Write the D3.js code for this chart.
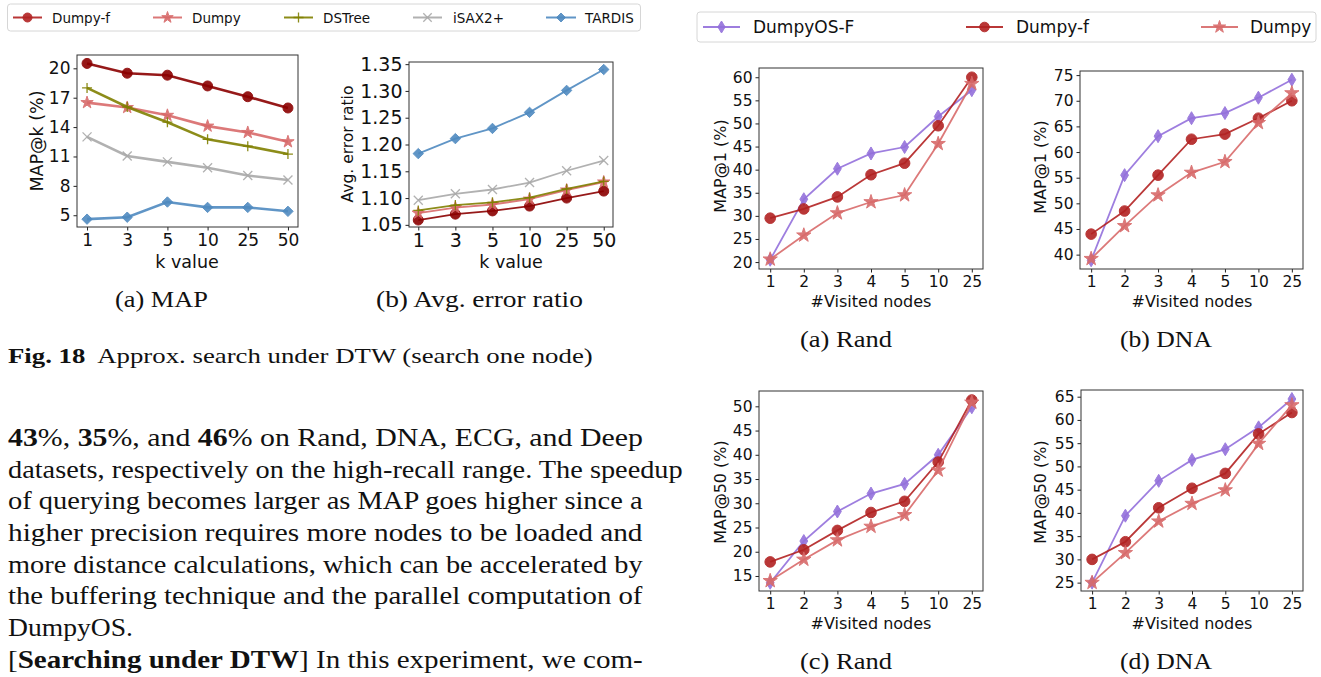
<!DOCTYPE html>
<html>
<head>
<meta charset="utf-8">
<title></title>
<script src="https://d3js.org/d3.v7.min.js"></script>
<style>
  body { margin: 0; background: #fff; }
  svg { display: block; }
</style>
</head>
<body>
<svg id="page" width="1321" height="677"></svg>
<script>

// ---------- data : Fig. 18 (search one node) ----------
var kValues = ["1", "3", "5", "10", "25", "50"]

var mapDumpyF = [20.5, 19.5, 19.3, 18.2, 17.1, 15.95]
var mapDumpy  = [16.5, 16.0, 15.2, 14.1, 13.45, 12.5]
var mapDSTree = [18.0, 16.05, 14.5, 12.75, 12.05, 11.25]
var mapISAX   = [13.0, 11.05, 10.45, 9.85, 9.05, 8.6]
var mapTARDIS = [4.6, 4.8, 6.35, 5.8, 5.8, 5.4]
var mapTicks  = [5, 8, 11, 14, 17, 20]

var errDumpyF = [1.059, 1.070, 1.076, 1.085, 1.100, 1.113]
var errDumpy  = [1.072, 1.082, 1.088, 1.098, 1.115, 1.130]
var errDSTree = [1.077, 1.087, 1.092, 1.101, 1.117, 1.131]
var errISAX   = [1.096, 1.108, 1.116, 1.129, 1.151, 1.170]
var errTARDIS = [1.183, 1.211, 1.230, 1.260, 1.301, 1.340]
var errTicks  = [1.05, 1.10, 1.15, 1.20, 1.25, 1.30, 1.35]

// ---------- data : visited nodes figure ----------
var visited = ["1", "2", "3", "4", "5", "10", "25"]

var randMap1OS = [20.5, 33.6, 40.2, 43.5, 44.9, 51.5, 57.2]
var randMap1F  = [29.5, 31.5, 34.1, 38.9, 41.4, 49.5, 60.0]
var randMap1D  = [20.6, 25.8, 30.6, 33.0, 34.5, 45.6, 58.6]
var randMap1Ticks = [20, 25, 30, 35, 40, 45, 50, 55, 60]

var dnaMap1OS = [38.9, 55.5, 63.1, 66.6, 67.6, 70.6, 74.1]
var dnaMap1F  = [44.0, 48.5, 55.5, 62.5, 63.5, 66.6, 70.0]
var dnaMap1D  = [39.2, 45.6, 51.6, 56.0, 58.1, 65.7, 71.5]
var dnaMap1Ticks = [40, 45, 50, 55, 60, 65, 70, 75]

var randMap50OS = [13.6, 22.2, 28.3, 32.0, 34.0, 40.0, 49.8]
var randMap50F  = [17.9, 20.4, 24.4, 28.1, 30.4, 38.5, 51.3]
var randMap50D  = [14.0, 18.4, 22.4, 25.2, 27.6, 36.8, 50.8]
var randMap50Ticks = [15, 20, 25, 30, 35, 40, 45, 50]

var dnaMap50OS = [25.0, 39.4, 46.9, 51.4, 53.7, 58.4, 64.5]
var dnaMap50F  = [30.0, 33.8, 41.1, 45.3, 48.5, 57.0, 61.6]
var dnaMap50D  = [25.0, 31.4, 38.2, 42.0, 44.9, 54.9, 63.2]
var dnaMap50Ticks = [25, 30, 35, 40, 45, 50, 55, 60, 65]

// colours
var cDarkRed = "#8b0000", cFire = "#b22222", cPink = "#d86a6a", cOlive = "#808000",
    cGray = "#a9a9a9", cBlue = "#4f8ac0", cPurple = "#9370db"

var sans = "DejaVu Sans, sans-serif"
var serif = "Liberation Serif, Times New Roman, serif"

var svg = d3.select("#page")
svg.append("rect").attr("width", 1321).attr("height", 677).attr("fill", "#fff")

// marker shapes (matplotlib-ish)
function markerPath(type, s) {
    if (type == "circle") return d3.symbol(d3.symbolCircle, Math.PI * s * s)()
    if (type == "star") return d3.symbol(d3.symbolStar, s * s / 0.89)()
    if (type == "diamond") return "M0," + (-s) + "L" + s + ",0L0," + s + "L" + (-s) + ",0Z"
    if (type == "thin") return "M0," + (-s) + "L" + (s * 0.6) + ",0L0," + s + "L" + (-s * 0.6) + ",0Z"
    if (type == "plus") return "M" + (-s) + ",0H" + s + "M0," + (-s) + "V" + s
    if (type == "x") return "M" + (-s) + "," + (-s) + "L" + s + "," + s + "M" + (-s) + "," + s + "L" + s + "," + (-s)
}

function drawMarker(g, type, s, color, cx, cy, op) {
    var open = (type == "plus" || type == "x")
    g.append("path")
        .attr("d", markerPath(type, s))
        .attr("transform", "translate(" + cx + "," + cy + ")")
        .attr("fill", open ? "none" : color)
        .attr("stroke", color)
        .attr("stroke-width", open ? 1.3 : 1)
        .attr("opacity", op)
}

function drawPanel(p) {
    var g = svg.append("g")
    var x = d3.scalePoint().domain(p.cats).range([p.x0, p.x1]).padding(p.pad)
    var y = d3.scaleLinear().domain(p.yDomain).range([p.y1, p.y0])

    var xa = g.append("g")
        .attr("transform", "translate(0," + p.y1 + ")")
        .call(d3.axisBottom(x).tickSize(3.5).tickPadding(3))
    var ya = g.append("g")
        .attr("transform", "translate(" + p.x0 + ",0)")
        .call(d3.axisLeft(y).tickValues(p.yTicks).tickFormat(d3.format(p.fmt)).tickSize(3.5).tickPadding(3))
    ;[xa, ya].forEach(function(a) {
        a.select(".domain").remove()
        a.selectAll("text").attr("font-family", sans).attr("font-size", p.tickFs).attr("fill", "#111")
        a.selectAll("line").attr("stroke", "#222")
    })

    g.append("rect")
        .attr("x", p.x0).attr("y", p.y0)
        .attr("width", p.x1 - p.x0).attr("height", p.y1 - p.y0)
        .attr("fill", "none").attr("stroke", "#333").attr("stroke-width", 1)

    p.series.forEach(function(s) {
        var pts = s.values.map(function(v, i) { return [x(p.cats[i]), y(v)] })
        g.append("path")
            .attr("d", d3.line()(pts))
            .attr("fill", "none")
            .attr("stroke", s.color)
            .attr("stroke-width", p.lw)
            .attr("opacity", 0.9)
        pts.forEach(function(pt) {
            drawMarker(g, s.marker, s.size, s.color, pt[0], pt[1], 0.9)
        })
    })

    g.append("text")
        .attr("transform", "translate(" + p.ylx + "," + p.yly + ") rotate(-90)")
        .attr("text-anchor", "middle").attr("dominant-baseline", "central")
        .attr("font-family", sans).attr("font-size", p.ylFs).attr("fill", "#111")
        .text(p.yLabel)
    g.append("text")
        .attr("x", p.xlx).attr("y", p.xly)
        .attr("text-anchor", "middle").attr("dominant-baseline", "central")
        .attr("font-family", sans).attr("font-size", p.xlFs).attr("fill", "#111")
        .text(p.xLabel)
}

// ---------- left figure ----------
var leftSeriesA = [
    {values: mapDumpyF, color: cDarkRed, marker: "circle", size: 5},
    {values: mapDumpy, color: cPink, marker: "star", size: 6.5},
    {values: mapDSTree, color: cOlive, marker: "plus", size: 5},
    {values: mapISAX, color: cGray, marker: "x", size: 4.5},
    {values: mapTARDIS, color: cBlue, marker: "diamond", size: 5.2}
]
var leftSeriesB = [
    {values: errDumpyF, color: cDarkRed, marker: "circle", size: 5},
    {values: errDumpy, color: cPink, marker: "star", size: 6.5},
    {values: errDSTree, color: cOlive, marker: "plus", size: 5},
    {values: errISAX, color: cGray, marker: "x", size: 4.5},
    {values: errTARDIS, color: cBlue, marker: "diamond", size: 5.2}
]

drawPanel({cats: kValues, x0: 77, x1: 298, y0: 55, y1: 227, pad: 0.25,
    yDomain: [3.8, 21.36], yTicks: mapTicks, fmt: "d", tickFs: 17, lw: 2.6,
    series: leftSeriesA, yLabel: "MAP@k (%)", ylx: 37, yly: 141, ylFs: 17.5,
    xLabel: "k value", xlx: 187, xly: 262, xlFs: 17.5})

drawPanel({cats: kValues, x0: 409, x1: 613, y0: 62, y1: 227, pad: 0.25,
    yDomain: [1.046, 1.354], yTicks: errTicks, fmt: ".2f", tickFs: 19, lw: 1.8,
    series: leftSeriesB, yLabel: "Avg. error ratio", ylx: 348, yly: 144, ylFs: 15.5,
    xLabel: "k value", xlx: 511, xly: 262, xlFs: 17.5})

// ---------- right figure ----------
function rightSeries(os, f, d) {
    return [
        {values: os, color: cPurple, marker: "thin", size: 6.5},
        {values: f, color: cFire, marker: "circle", size: 5.3},
        {values: d, color: cPink, marker: "star", size: 7.5}
    ]
}
var rightCommon = {cats: visited, pad: 1 / 3, fmt: "d", tickFs: 15.5, lw: 1.8, ylFs: 16, xlFs: 16,
    xLabel: "#Visited nodes"}

drawPanel(Object.assign({}, rightCommon, {x0: 759, x1: 983, y0: 68, y1: 269,
    yDomain: [18.5, 62.0], yTicks: randMap1Ticks, series: rightSeries(randMap1OS, randMap1F, randMap1D),
    yLabel: "MAP@1 (%)", ylx: 720, yly: 166, xlx: 871, xly: 301}))
drawPanel(Object.assign({}, rightCommon, {x0: 1080, x1: 1303, y0: 71, y1: 269,
    yDomain: [37.2, 75.8], yTicks: dnaMap1Ticks, series: rightSeries(dnaMap1OS, dnaMap1F, dnaMap1D),
    yLabel: "MAP@1 (%)", ylx: 1040, yly: 167, xlx: 1192, xly: 301}))
drawPanel(Object.assign({}, rightCommon, {x0: 759, x1: 983, y0: 391, y1: 591,
    yDomain: [11.9, 53.16], yTicks: randMap50Ticks, series: rightSeries(randMap50OS, randMap50F, randMap50D),
    yLabel: "MAP@50 (%)", ylx: 720, yly: 492, xlx: 871, xly: 623}))
drawPanel(Object.assign({}, rightCommon, {x0: 1081, x1: 1303, y0: 390, y1: 591,
    yDomain: [23.2, 66.44], yTicks: dnaMap50Ticks, series: rightSeries(dnaMap50OS, dnaMap50F, dnaMap50D),
    yLabel: "MAP@50 (%)", ylx: 1040, yly: 492, xlx: 1192, xly: 623}))

// ---------- legends ----------
function drawLegend(box, items, fs) {
    var g = svg.append("g")
    g.append("rect").attr("x", box[0]).attr("y", box[1]).attr("width", box[2]).attr("height", box[3])
        .attr("rx", 3).attr("fill", "#fff").attr("stroke", "#d6d6d6").attr("stroke-width", 1)
    var cy = box[1] + box[3] / 2
    items.forEach(function(it) {
        g.append("line").attr("x1", it.x1).attr("x2", it.x2).attr("y1", cy).attr("y2", cy)
            .attr("stroke", it.color).attr("stroke-width", 2).attr("opacity", 0.9)
        drawMarker(g, it.marker, it.size, it.color, (it.x1 + it.x2) / 2, cy, 0.9)
        g.append("text").attr("x", it.tx).attr("y", cy).attr("dominant-baseline", "central")
            .attr("font-family", sans).attr("font-size", fs).attr("fill", "#111").text(it.name)
    })
}

drawLegend([7.5, 4, 633, 27], [
    {name: "Dumpy-f", color: cFire, marker: "circle", size: 4.5, x1: 13, x2: 42, tx: 52},
    {name: "Dumpy", color: cPink, marker: "star", size: 6, x1: 153, x2: 182, tx: 192},
    {name: "DSTree", color: cOlive, marker: "plus", size: 5, x1: 284, x2: 313, tx: 323},
    {name: "iSAX2+", color: cGray, marker: "x", size: 4.2, x1: 413, x2: 442, tx: 453},
    {name: "TARDIS", color: cBlue, marker: "diamond", size: 4.5, x1: 546, x2: 576, tx: 585}
], 13.5)

drawLegend([697, 12, 619, 30], [
    {name: "DumpyOS-F", color: cPurple, marker: "thin", size: 6, x1: 703, x2: 740, tx: 753},
    {name: "Dumpy-f", color: cFire, marker: "circle", size: 4.8, x1: 966, x2: 1003, tx: 1016},
    {name: "Dumpy", color: cPink, marker: "star", size: 6.5, x1: 1201, x2: 1238, tx: 1250}
], 17)

// ---------- captions and body text ----------
// serif text, stretched horizontally to the measured line width
function fitText(x, y, segs, fs, target) {
    var t = svg.append("text").attr("x", x).attr("y", y)
        .attr("font-family", serif).attr("font-size", fs).attr("fill", "#111")
        .attr("xml:space", "preserve")
    segs.forEach(function(s) {
        t.append("tspan").attr("font-weight", s[1] ? "bold" : "normal").text(s[0])
    })
    var w = t.node().getComputedTextLength()
    var k = target / w
    t.attr("transform", "translate(" + x + ",0) scale(" + k + ",1) translate(" + (-x) + ",0)")
    return t
}

fitText(115, 307, [["(a) MAP", false]], 23, 93)
fitText(376, 307, [["(b) Avg. error ratio", false]], 23, 207)
fitText(8, 363, [["Fig. 18", true], ["  Approx. search under DTW (search one node)", false]], 22, 585)

fitText(800, 347, [["(a) Rand", false]], 23, 92)
fitText(1120, 347, [["(b) DNA", false]], 23, 92)
fitText(800, 669, [["(c) Rand", false]], 23, 92)
fitText(1120, 669, [["(d) DNA", false]], 23, 92)

var paraLines = [
    [["43", true], ["%, ", false], ["35", true], ["%, and ", false], ["46", true], ["% on Rand, DNA, ECG, and Deep", false]],
    [["datasets, respectively on the high-recall range. The speedup", false]],
    [["of querying becomes larger as MAP goes higher since a", false]],
    [["higher precision requires more nodes to be loaded and", false]],
    [["more distance calculations, which can be accelerated by", false]],
    [["the buffering technique and the parallel computation of", false]],
    [["DumpyOS.", false]],
    [["[", false], ["Searching under DTW", true], ["] In this experiment, we com-", false]]
]
var paraWidths = [635, 675, 635, 635, 635, 635, 125, 635]
paraLines.forEach(function(line, i) {
    fitText(8, 446 + i * 31.7, line, 26, paraWidths[i])
})

</script>
</body>
</html>
